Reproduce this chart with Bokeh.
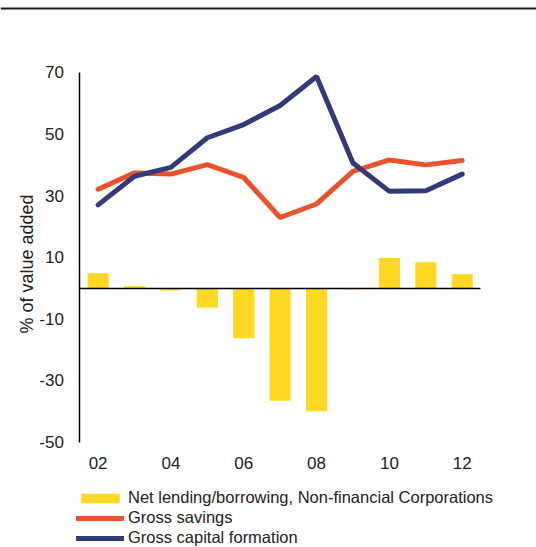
import math
from bokeh.plotting import figure
from bokeh.models import Range1d, LinearAxis, FixedTicker, Legend, LegendItem, ColumnDataSource, Label
from bokeh.embed import file_html
from bokeh.resources import INLINE

# ---- data ----
years = [2002, 2003, 2004, 2005, 2006, 2007, 2008, 2009, 2010, 2011, 2012]
net_lending = [4.8, 0.6, -0.8, -6.4, -16.3, -36.6, -40.0, -0.5, 9.8, 8.4, 4.5]
gross_savings = [32.1, 37.4, 37.0, 40.1, 35.9, 22.9, 27.3, 37.9, 41.6, 40.0, 41.4]
gross_capital = [27.0, 36.3, 39.2, 48.8, 53.1, 59.3, 68.7, 40.6, 31.4, 31.6, 37.0]
x_tick_values = [2002, 2004, 2006, 2008, 2010, 2012]
x_tick_labels = ["02", "04", "06", "08", "10", "12"]
y_tick_values = [-50, -30, -10, 10, 30, 50, 70]
y_tick_labels = ["-50", "-30", "-10", "10", "30", "50", "70"]
y_min, y_max = -50, 70
y_title = "% of value added"
series_names = ["Net lending/borrowing, Non-financial Corporations",
                "Gross savings", "Gross capital formation"]

# ---- style ----
FONT = "Liberation Sans"
YELLOW = "#FED823"
ORANGE = "#E9522A"
NAVY = "#333A7A"
TEXT = "#222222"

src = ColumnDataSource(dict(year=years, net=net_lending, sav=gross_savings, cap=gross_capital))

x_lo, x_hi = years[0] - 0.5, years[-1] + 0.5
p = figure(width=536, height=547, output_backend="svg", toolbar_location=None,
           x_axis_type=None, y_axis_type=None,
           x_range=Range1d(1999.32, 2014.04), y_range=Range1d(-84.26, 93.38),
           min_border=0, outline_line_color=None)
p.background_fill_color = "white"
p.border_fill_color = "white"

bars = p.vbar(x="year", top="net", width=0.58, source=src, fill_color=YELLOW, line_color=None)
sav = p.line(x="year", y="sav", source=src, line_color=ORANGE, line_width=5, line_cap="round")
cap = p.line(x="year", y="cap", source=src, line_color=NAVY, line_width=5, line_cap="round")

# y axis
yax = LinearAxis(fixed_location=x_lo, bounds=(y_min, y_max),
                 ticker=FixedTicker(ticks=y_tick_values),
                 major_label_overrides=dict(zip(y_tick_values, y_tick_labels)),
                 axis_line_color="black", axis_line_width=1.5,
                 major_tick_out=0, major_tick_in=0, minor_tick_line_color=None,
                 major_label_standoff=16,
                 major_label_text_font=FONT, major_label_text_font_size="17px",
                 major_label_text_color=TEXT)
p.add_layout(yax, "left")

# y axis title
p.add_layout(Label(x=2000.06, y=7.8, text=y_title, angle=math.pi / 2,
                   text_align="center", text_baseline="middle",
                   text_font=FONT, text_font_size="18px", text_color=TEXT))

# zero line
zax = LinearAxis(fixed_location=0, bounds=(x_lo, x_hi), ticker=FixedTicker(ticks=[]),
                 axis_line_color="black", axis_line_width=1.5,
                 major_tick_line_color=None, minor_tick_line_color=None,
                 major_label_text_font_size="0px")
p.add_layout(zax, "below")

# x tick labels
xax = LinearAxis(fixed_location=y_min, ticker=FixedTicker(ticks=x_tick_values),
                 major_label_overrides=dict(zip(x_tick_values, x_tick_labels)),
                 axis_line_color=None, major_tick_line_color=None, minor_tick_line_color=None,
                 major_label_standoff=9,
                 major_label_text_font=FONT, major_label_text_font_size="17px",
                 major_label_text_color=TEXT)
p.add_layout(xax, "below")

# top rule
tax = LinearAxis(fixed_location=90.79, ticker=FixedTicker(ticks=[]),
                 axis_line_color="#1a1a1a", axis_line_width=2,
                 major_tick_line_color=None, minor_tick_line_color=None,
                 major_label_text_font_size="0px")
p.add_layout(tax, "above")

legend = Legend(items=[LegendItem(label=series_names[0], renderers=[bars]),
                       LegendItem(label=series_names[1], renderers=[sav]),
                       LegendItem(label=series_names[2], renderers=[cap])],
                location=(76, 0), orientation="vertical", padding=0, margin=0, spacing=1,
                glyph_width=48, glyph_height=12, label_height=18, label_standoff=4,
                label_text_font=FONT, label_text_font_size="16.5px", label_text_color=TEXT,
                border_line_color=None, background_fill_alpha=0)
p.add_layout(legend)

open("out.html", "w").write(file_html(p, INLINE))
